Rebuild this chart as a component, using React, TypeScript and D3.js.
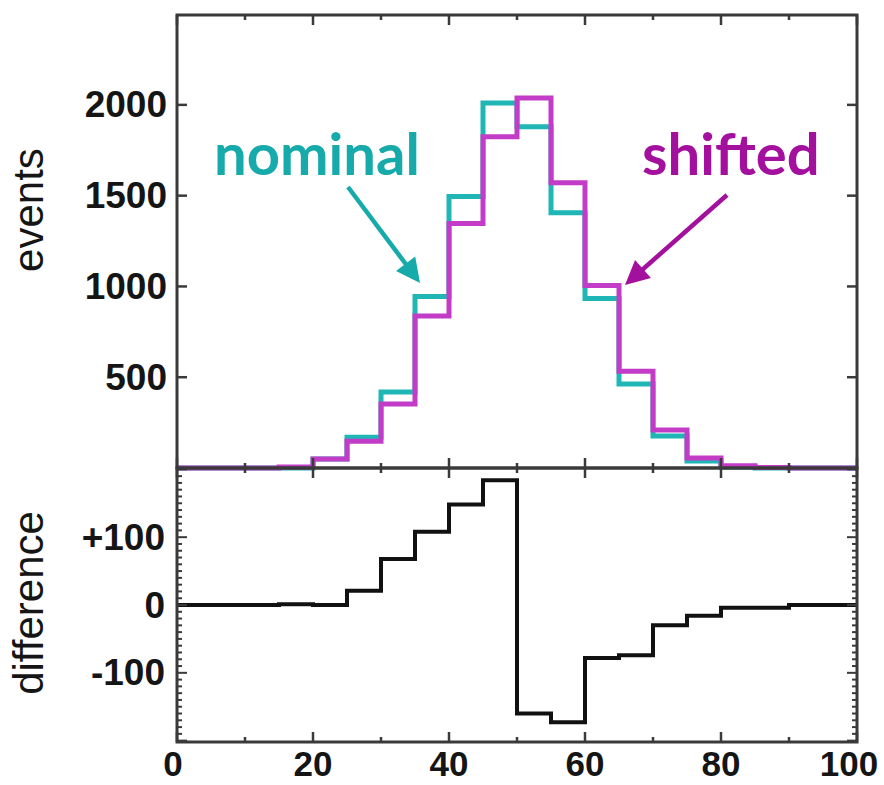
import React from 'react'
import * as d3 from 'd3'

// bin edges 0..100 by 5
const binEdges = d3.range(0, 101, 5)
const nominal = [0, 0, 0, 0, 50, 170, 418, 945, 1495, 2011, 1879, 1406, 934, 462, 176, 38, 5, 0, 0, 0]
const shifted = [0, 0, 0, 5, 50, 148, 352, 837, 1346, 1824, 2038, 1571, 1005, 533, 209, 55, 12, 3, 0, 0]
const difference = [0, 0, 0, 1, 0, 21, 68, 108, 148, 184, -160, -173, -78, -74, -30, -16, -4, -4, 0, 0]

const xTicks = [0, 20, 40, 60, 80, 100]
const eventTicks = [500, 1000, 1500, 2000]
const diffTicks = [-100, 0, 100]
const diffTickLabels = ['-100', '0', '+100']

const W = 884
const H = 785
const left = 177
const right = 857
const top = 15
const mid = 468
const bottom = 742

const CYAN = '#20b6b6'
const MAGENTA = '#c23cc8'
const FRAME = '#3a3a3a'

export default function App () {
    const x = d3.scaleLinear().domain([0, 100]).range([left, right])
    const yTop = d3.scaleLinear().domain([0, 2495]).range([mid, top])
    const yBot = d3.scaleLinear().domain([-202, 202]).range([bottom, mid])

    const stepTop = d3.line<number>()
        .x((_, i) => x(binEdges[i]))
        .y(d => yTop(d))
        .curve(d3.curveStepAfter)
    const stepBot = d3.line<number>()
        .x((_, i) => x(binEdges[i]))
        .y(d => yBot(d))
        .curve(d3.curveStepAfter)

    const close = (arr: number[]) => [...arr, arr[arr.length - 1]]

    const minorX = d3.range(0, 101, 10)
    const minorDiff = d3.range(-200, 201, 10)

    const tickFont = { fontFamily: 'Liberation Sans, Arial, sans-serif', fontWeight: 'bold', fontSize: 37, fill: '#151515' } as const
    const labelFont = { fontFamily: 'Liberation Sans, Arial, sans-serif', fontSize: 42, fill: '#151515' } as const

    const arrow = (x1: number, y1: number, x2: number, y2: number, color: string) => {
        const dx = x2 - x1, dy = y2 - y1
        const len = Math.hypot(dx, dy)
        const ux = dx / len, uy = dy / len
        const hl = 24, hw = 12
        const bx = x2 - ux * hl, by = y2 - uy * hl
        const pts = [
            [x2, y2],
            [bx - uy * hw, by + ux * hw],
            [bx + uy * hw, by - ux * hw],
        ]
        return (
            <g>
                <line x1={x1} y1={y1} x2={bx + ux * 4} y2={by + uy * 4} stroke={color} strokeWidth={4.5} />
                <polygon points={pts.map(p => p.join(',')).join(' ')} fill={color} />
            </g>
        )
    }

    return (
        <svg width={W} height={H} style={{ position: 'absolute', left: 0, top: 0, background: '#fff' }}>
            {/* histograms */}
            <path d={stepTop(close(nominal)) || ''} fill="none" stroke={CYAN} strokeWidth={5} />
            <path d={stepTop(close(shifted)) || ''} fill="none" stroke={MAGENTA} strokeWidth={5} />
            <path d={stepBot(close(difference)) || ''} fill="none" stroke="#111" strokeWidth={4} />

            {/* frames */}
            <rect x={left} y={top} width={right - left} height={mid - top} fill="none" stroke={FRAME} strokeWidth={3} />
            <rect x={left} y={mid} width={right - left} height={bottom - mid} fill="none" stroke={FRAME} strokeWidth={3} />

            {/* x ticks on every horizontal edge, inward */}
            {minorX.map(t => {
                const len = t % 20 === 0 ? 10 : 5
                return (
                    <g key={'xt' + t} stroke={FRAME} strokeWidth={2.5}>
                        <line x1={x(t)} x2={x(t)} y1={top} y2={top + len} />
                        <line x1={x(t)} x2={x(t)} y1={mid} y2={mid - len} />
                        <line x1={x(t)} x2={x(t)} y1={mid} y2={mid + len} />
                        <line x1={x(t)} x2={x(t)} y1={bottom} y2={bottom - len} />
                    </g>
                )
            })}

            {/* events ticks */}
            {eventTicks.map(t => (
                <g key={'et' + t} stroke={FRAME} strokeWidth={2.5}>
                    <line x1={left} x2={left + 10} y1={yTop(t)} y2={yTop(t)} />
                    <line x1={right} x2={right - 10} y1={yTop(t)} y2={yTop(t)} />
                </g>
            ))}
            {eventTicks.map(t => (
                <text key={'el' + t} x={167} y={yTop(t)} textAnchor="end" dominantBaseline="central" {...tickFont}>{t}</text>
            ))}

            {/* difference ticks */}
            {minorDiff.map(t => {
                const len = t % 100 === 0 ? 10 : 5
                return (
                    <g key={'dt' + t} stroke={FRAME} strokeWidth={2}>
                        <line x1={left} x2={left + len} y1={yBot(t)} y2={yBot(t)} />
                        <line x1={right} x2={right - len} y1={yBot(t)} y2={yBot(t)} />
                    </g>
                )
            })}
            {diffTicks.map((t, i) => (
                <text key={'dl' + t} x={165} y={yBot(t)} textAnchor="end" dominantBaseline="central" {...tickFont}>{diffTickLabels[i]}</text>
            ))}

            {/* x labels */}
            {xTicks.map(t => (
                <text key={'xl' + t} x={x(t) + (t === 0 ? -4 : t === 100 ? -8 : 0)} y={776} textAnchor="middle" {...tickFont} fontSize={35}>{t}</text>
            ))}

            {/* axis titles */}
            <text transform="translate(43,210) rotate(-90)" textAnchor="middle" {...labelFont}>events</text>
            <text transform="translate(43,603) rotate(-90)" textAnchor="middle" {...labelFont}>difference</text>

            {/* annotations */}
            <text x={214} y={175} fontFamily="Lato, sans-serif" fontWeight="bold" fontSize={58} fill="#16aaaa">nominal</text>
            <text x={642} y={175} fontFamily="Lato, sans-serif" fontWeight="bold" fontSize={58} fill="#a4109e">shifted</text>
            {arrow(348, 187, 420, 283, '#16aaaa')}
            {arrow(727, 195, 625, 285, '#a4109e')}
        </svg>
    )
}
